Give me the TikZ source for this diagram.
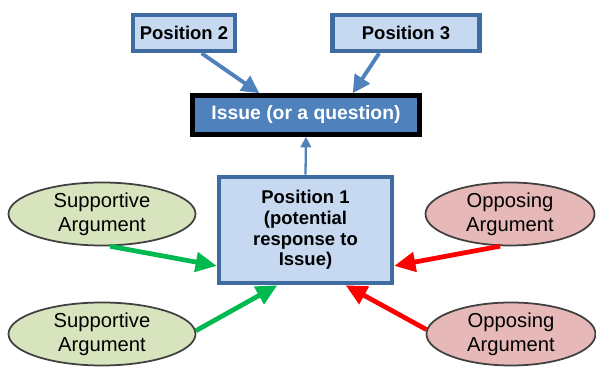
\documentclass[tikz,border=0pt]{standalone}
\usepackage{fontspec}
\setmainfont{Liberation Sans}
\usetikzlibrary{arrows.meta, shapes.geometric}
\definecolor{posfill}{RGB}{198,217,241}
\definecolor{posline}{RGB}{62,108,160}
\definecolor{issuefill}{RGB}{79,129,189}
\definecolor{supfill}{RGB}{215,228,189}
\definecolor{oppfill}{RGB}{230,185,184}
\definecolor{supline}{RGB}{0,185,80}
\definecolor{oppline}{RGB}{255,0,0}
\tikzset{position/.style = {draw=posline, fill=posfill, line width=2.6pt, inner sep=0pt, align=center,
    font=\fontsize{10.5}{11.8}\selectfont\bfseries}}
\tikzset{issue/.style = {draw=black, fill=issuefill, line width=2.6pt, inner sep=0pt, text=white,
    font=\fontsize{11}{12.3}\selectfont\bfseries}}
\tikzset{argument/.style = {ellipse, draw=black!75, line width=1pt, inner sep=0pt, align=center,
    font=\fontsize{11.5}{13.5}\selectfont}}
\tikzset{link/.style = {line width=2.7pt, -{Triangle[length=12pt, width=11pt]}}}

\begin{document}
\begin{tikzpicture}
\useasboundingbox (0,0) rectangle (11.92,7.34);
\node [position, minimum width=2.04cm, minimum height=0.72cm] (pos2) at (3.68,6.68) {Position 2};
\node [position, minimum width=2.94cm, minimum height=0.72cm] (pos3) at (8.12,6.68) {Position 3};
\node [issue, minimum width=4.54cm, minimum height=0.78cm] (issue) at (6.12,5.04) {Issue (or a question)};
\node [position, minimum width=3.46cm, minimum height=2.12cm] (pos1) at (6.11,2.74)
    {Position 1\\(potential\\response to\\Issue)};
\node [argument, fill=supfill, minimum width=3.74cm, minimum height=1.26cm] (sup1) at (2.04,3.06) {Supportive\\Argument};
\node [argument, fill=supfill, minimum width=3.74cm, minimum height=1.26cm] (sup2) at (2.04,0.66) {Supportive\\Argument};
\node [argument, fill=oppfill, minimum width=3.38cm, minimum height=1.26cm] (opp1) at (10.20,3.06) {Opposing\\Argument};
\node [argument, fill=oppfill, minimum width=3.38cm, minimum height=1.26cm] (opp2) at (10.22,0.66) {Opposing\\Argument};
\draw [link, issuefill, line width=2.2pt, -{Triangle[length=10pt, width=10pt]}] (pos2.311) -- (issue.155);
\draw [link, issuefill, line width=2.2pt, -{Triangle[length=10pt, width=10pt]}] (pos3.217) -- (issue.25);
\draw [link, issuefill, line width=1.3pt, -{Triangle[length=6pt, width=6pt]}] (pos1.north) -- (issue.south);
\draw [link, supline] (sup1.284) -- (pos1.202);
\draw [link, supline] (sup2.2) -- (pos1.243);
\draw [link, oppline] (opp1.253) -- (pos1.338);
\draw [link, oppline] (opp2.177) -- (pos1.306);
\end{tikzpicture}
\end{document}
